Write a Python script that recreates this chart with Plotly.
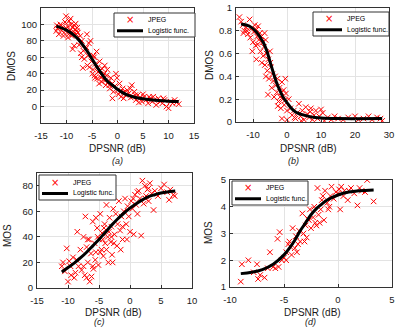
import plotly.graph_objects as go

# ---------------- data ----------------
# (a) DMOS vs DPSNR
a_x = [-12,-11.8,-11.5,-11.2,-11,-10.8,-10.5,-10.3,-10.1,-10,-9.8,-9.6,-9.5,-9.3,-9.1,-9,-8.8,-8.6,-8.5,-8.3,-8.1,-8,-7.9,-8.8,-8.5,-9.7,-10.6,-11.4,-11.9,-9.2,-8.2,-7.8,
       -7.5,-7.2,-7,-6.8,-6.5,-6.3,-6,-5.8,-5.6,-5.5,-5.3,-5.1,-7.3,-6.1,-5.9,-7,-6.7,
       -4.8,-4.6,-4.5,-4.3,-4.1,-4,-3.8,-3.6,-3.5,-3.3,-3.1,-3,-2.8,-2.6,-2.5,-2.3,-2.1,-2,-4.9,-4.4,-3.9,-3.4,-2.9,-2.4,-4.7,
       -1.8,-1.5,-1.3,-1,-0.8,-0.5,-0.3,0,0.2,0.4,0.7,1,1.3,1.6,1.9,-1,-0.1,0.5,1.2,-1.6,
       2.2,2.5,2.8,3,3.3,3.6,4,4.4,4.8,5.2,5.6,6,6.4,6.8,7.2,7.6,8,8.4,8.8,9.2,9.6,10,10.4,10.8,11.2,11.6,12,3.5,5,7,9,2.6,4.2,6.2]
a_y = [92,95,88,100,93,97,90,103,110,95,98,88,104,93,100,86,96,91,99,94,88,92,96,70,74,84,86,97,99,107,101,90,
       75,65,80,47,58,70,88,62,77,48,80,55,86,72,50,60,68,
       45,60,38,52,67,34,42,28,55,36,30,46,33,40,50,26,38,45,40,35,48,44,37,32,62,
       30,22,35,28,18,25,40,20,15,28,12,22,18,14,20,10,35,18,10,26,
       16,22,26,12,18,8,14,10,6,12,8,4,10,6,8,2,10,6,4,8,0,-2,6,4,8,5,3,14,15,12,10,11,5,12]
a_fit_x = [-12,-10,-8,-6,-5,-4,-3,-2,-1,0,1,2,3,4,6,8,10,12]
a_fit_y = [98,93,84,68,58,48,39,31,26,21,17,14,12,10.5,8.5,7.3,6.6,6.2]

# (b) DMOS vs DPSNR
b_x = [-14,-13.5,-13,-12.5,-12,-11.5,-11,-10.8,-10.5,-10,-9.8,-9.5,-9.2,-9,-8.8,-8.5,-8.3,-8,-7.8,-7.5,-9,-10.2,-11.8,-12.8,-8.6,
       -7.2,-7,-6.8,-6.5,-6.3,-6,-5.8,-5.5,-5.3,-5,-4.8,-4.5,-4.3,-4,-3.8,-3.5,-3.3,-6.2,-5.6,-4.9,-7.4,-6.6,
       -3,-2.8,-2.5,-2.2,-2,-1.8,-1.5,-1.2,-1,-0.8,-0.5,-0.3,0,-2.7,-1.6,-0.6,
       0.5,1,1.5,2,2.5,3,3.5,4,4.5,5,5.5,6,6.5,7,7.5,8,8.5,9,9.5,-1.5,0,2.2,4.2,6.8,
       10,10.5,11,12,13,14,15,16.5,18,20,21,22.5,24,25,26.5,27.5,28]
b_y = [0.92,0.88,0.85,0.8,0.83,0.77,0.9,0.74,0.82,0.7,0.79,0.85,0.67,0.81,0.75,0.84,0.72,0.78,0.62,0.75,0.55,0.62,0.8,0.78,0.68,
       0.7,0.58,0.66,0.5,0.72,0.6,0.45,0.55,0.38,0.62,0.48,0.3,0.42,0.36,0.22,0.4,0.32,0.4,0.24,0.52,0.52,0.78,
       0.26,0.38,0.18,0.3,0.22,0.12,0.35,0.2,0.28,0.15,0.38,0.25,0.1,0.14,0.26,0.19,
       0.2,0.12,0.06,0.1,0.03,0.08,0.16,0.05,0.1,0.02,0.13,0.07,0.04,0.12,0.02,0.06,0.1,0.03,0.05,0.03,0.02,0.04,0.01,0.09,
       0.11,0.08,0.01,0.04,0.02,0.05,0.03,0.02,0.04,0.05,0.02,0.03,0.05,0.02,0.04,0.03,0.01]
b_fit_x = [-13.5,-11,-9,-7,-6,-5,-4,-3,-2,-1,0,1,2,3,5,7,10,15,28]
b_fit_y = [0.86,0.84,0.79,0.7,0.63,0.53,0.43,0.34,0.27,0.21,0.17,0.13,0.1,0.08,0.06,0.045,0.035,0.03,0.03]

# (c) MOS vs DPSNR
c_x = [-11,-10.8,-10.5,-10.2,-10,-9.8,-9.5,-9.2,-9,-8.8,-8.5,-8.3,-8,-7.8,-7.5,-7.3,-7.2,-7,-6.8,-6.6,-6.5,-6.3,-6,-5.9,-5.7,-5.5,-5.3,-5.1,-5,-4.8,-4.6,-4.5,-4.3,-4.1,-4,-3.8,-3.6,-3.5,-3.3,-3.1,-3,-2.9,-2.7,-2.5,-2.3,-2.1,-2,-1.8,-1.6,-1.4,-1.2,-1,-0.8,-0.6,-0.4,-0.2,0,0.2,0.4,0.6,0.8,1,1.2,1.4,1.6,1.8,2,2.2,2.4,2.6,2.8,3,3.2,3.5,3.8,4,4.5,5,5.5,6,6.3,6.5,7,7.2,
       -7.5,-7,-6.2,-6,-5.6,-4.8,-4.4,-3.8,-3,-2.6,-8.6,-9.6,-5.2,-4.2,-3.4,-1.5,-2.8,-6.8,0.5,1.2,2.5,3,-1.2,-0.5,-5.5]
c_y = [17,20,13,31,5,21,10,24,8,12,44,17,30,14,40,10,56,8,20,38,5,27,52,15,35,28,47,18,38,58,30,43,25,50,35,65,40,20,55,36,48,26,62,42,58,33,50,68,45,56,38,60,70,50,64,56,44,68,62,42,73,65,58,76,70,41,84,66,80,72,77,68,82,74,61,76,72,78,81,75,69,77,73,72,
       17,32,9,17,22,28,38,30,40,35,22,17,40,47,44,30,20,38,70,75,70,78,48,38,55]
c_fit_x = [-11,-10,-9,-8,-7,-6,-5,-4,-3,-2,-1,0,1,2,3,4,5,6,7.3]
c_fit_y = [12.5,16,19.5,23.5,28,33,38,43.5,49,54,58.5,62.5,66,69,71.5,73,74.3,75.2,76]

# (d) MOS vs DPSNR
d_x = [-9,-8.9,-8.3,-7.8,-7.5,-7.4,-7.2,-6.8,-6.5,-6.3,-6,-5.8,-5.6,-5.4,-5.2,-5,-4.8,-4.6,-4.5,-4.3,-4.2,-4,-3.9,-3.8,-3.6,-3.5,-3.3,-3.1,-3,-2.9,-2.7,-2.6,-2.5,-2.3,-2.2,-2,-1.9,-1.8,-1.6,-1.5,-1.3,-1.2,-1,-0.9,-0.7,-0.6,-0.4,-0.2,0,0.2,0.3,0.6,0.9,1.2,1.5,1.8,2,2.5,2.7,3.3,
       -4.8,-3.7,-2.8,-2.1,-1.4,-0.8,0.5,-5.5,-4.4,-3.2,-1.7,0.1,1,2.2]
d_y = [1.2,1.85,2,1.55,1.85,1.3,1.45,1.35,1.7,2.3,1.75,1.7,2.8,3.05,2,2.1,2.3,2.6,2.7,2.2,3.2,2.45,2.9,2.3,3.1,2.7,3.75,2.7,3.3,2.85,3.5,3.9,3.2,3.6,4.0,3.3,4.7,3.7,3.9,4.25,3.5,4.6,4.15,3.9,4.4,4.75,4.3,4.55,4.5,3.9,4.75,4.6,4.25,4.7,4.5,4.05,4.7,4.55,5.0,4.2,
       2.0,2.6,3.55,3.4,4.4,4.0,4.4,1.75,2.5,3.0,3.4,4.65,4.6,4.6]
d_fit_x = [-9,-8,-7,-6,-5,-4.5,-4,-3.5,-3,-2.5,-2,-1.5,-1,0,1,2,3.3]
d_fit_y = [1.5,1.55,1.65,1.85,2.2,2.45,2.75,3.1,3.4,3.7,3.93,4.1,4.25,4.44,4.55,4.6,4.63]

series_name = "JPEG"
fit_name = "Logistic func."
x_title = "DPSNR (dB)"
y_titles = ["DMOS", "DMOS", "MOS", "MOS"]
captions = ["(a)", "(b)", "(c)", "(d)"]

# ---------------- figure ----------------
W, H = 400, 336
FONT = "Liberation Sans, Arial, sans-serif"
TXT = "#1a1a1a"

def px(xp):
    return xp / W

def py(yp):
    return 1 - yp / H

def labels(vals):
    return [str(v) for v in vals]

panels = [
    dict(sx=a_x, sy=a_y, fx=a_fit_x, fy=a_fit_y, xd=(41, 194), yd=(8, 123),
         xr=[-15, 15], yr=[-20, 120], xt=[-15, -10, -5, 0, 5, 10, 15], yt=[0, 20, 40, 60, 80, 100],
         leg=(114, 13, 195, 37), xtt=(117, 148), ytt=(12, 66), cap=(117, 161)),
    dict(sx=b_x, sy=b_y, fx=b_fit_x, fy=b_fit_y, xd=(236, 389), yd=(8, 122),
         xr=[-15, 30], yr=[0, 1], xt=[-10, 0, 10, 20, 30], yt=[0, 0.2, 0.4, 0.6, 0.8, 1],
         leg=(313, 12, 389, 36), xtt=(308, 148), ytt=(209, 65), cap=(293, 161)),
    dict(sx=c_x, sy=c_y, fx=c_fit_x, fy=c_fit_y, xd=(37, 192), yd=(173, 288),
         xr=[-15, 10], yr=[0, 90], xt=[-15, -10, -5, 0, 5, 10], yt=[0, 20, 40, 60, 80],
         leg=(39, 175, 116, 200), xtt=(114, 312), ytt=(8, 236), cap=(99, 322)),
    dict(sx=d_x, sy=d_y, fx=d_fit_x, fy=d_fit_y, xd=(230, 392), yd=(180, 287),
         xr=[-10, 5], yr=[1, 5], xt=[-10, -5, 0, 5], yt=[1, 2, 3, 4, 5],
         leg=(232, 181, 308, 205), xtt=(312, 312), ytt=(208, 233), cap=(310, 322)),
]

fig = go.Figure()
annotations = []
shapes = []
layout = dict(
    template="none",
    width=W, height=H, margin=dict(l=0, r=0, t=0, b=0, autoexpand=False),
    paper_bgcolor="white", plot_bgcolor="white",
    font=dict(family=FONT, size=9, color=TXT),
    showlegend=False,
)

for i, p in enumerate(panels):
    n = "" if i == 0 else str(i + 1)
    xa, ya = "x" + n, "y" + n
    fig.add_trace(go.Scatter(
        x=p["sx"], y=p["sy"], mode="markers", name=series_name,
        xaxis=xa, yaxis=ya,
        marker=dict(symbol="x-thin", size=5.5, color="#ff0000",
                    line=dict(width=1, color="#ff0000")),
    ))
    fig.add_trace(go.Scatter(
        x=p["fx"], y=p["fy"], mode="lines", name=fit_name,
        xaxis=xa, yaxis=ya,
        line=dict(color="black", width=3, shape="spline"),
    ))
    axis_common = dict(showline=True, mirror=True, linecolor="#333333", linewidth=1,
                       showgrid=True, gridcolor="#e3e3e3", gridwidth=1, zeroline=False,
                       ticks="inside", ticklen=3, tickcolor="#333333", automargin=False,
                       tickfont=dict(family=FONT, size=9.5, color=TXT))
    layout["xaxis" + n] = dict(axis_common, domain=[px(p["xd"][0]), px(p["xd"][1])],
                               range=p["xr"], tickvals=p["xt"], ticktext=labels(p["xt"]),
                               ticklabelstandoff=4, anchor=ya)
    layout["yaxis" + n] = dict(axis_common, domain=[py(p["yd"][1]), py(p["yd"][0])],
                               range=p["yr"], tickvals=p["yt"], ticktext=labels(p["yt"]),
                               ticklabelstandoff=1, anchor=xa)

    # legend box (drawn by hand to match the compact MATLAB legend)
    lx0, ly0, lx1, ly1 = p["leg"]
    shapes.append(dict(type="rect", xref="paper", yref="paper",
                       x0=px(lx0), x1=px(lx1), y0=py(ly1), y1=py(ly0),
                       line=dict(color="#333333", width=1), fillcolor="white", layer="above"))
    row1 = ly0 + (ly1 - ly0) * 0.28
    row2 = ly0 + (ly1 - ly0) * 0.74
    sx0, sx1 = lx0 + 3, lx0 + 29
    shapes.append(dict(type="line", xref="paper", yref="paper",
                       x0=px(sx0), x1=px(sx1), y0=py(row2), y1=py(row2),
                       line=dict(color="black", width=3), layer="above"))
    annotations.append(dict(text="×", x=px((sx0 + sx1) / 2), y=py(row1), xref="paper", yref="paper",
                            showarrow=False, xanchor="center", yanchor="middle",
                            font=dict(family="DejaVu Sans", size=10, color="#ff0000")))
    for label, ry in ((series_name, row1), (fit_name, row2)):
        annotations.append(dict(text=label, x=px(sx1 + 3), y=py(ry), xref="paper", yref="paper",
                                showarrow=False, xanchor="left", yanchor="middle",
                                font=dict(family=FONT, size=7, color="black")))

    annotations.append(dict(text=x_title, x=px(p["xtt"][0]), y=py(p["xtt"][1]),
                            xref="paper", yref="paper", showarrow=False,
                            xanchor="center", yanchor="middle",
                            font=dict(family=FONT, size=10, color=TXT)))
    annotations.append(dict(text=y_titles[i], x=px(p["ytt"][0]), y=py(p["ytt"][1]),
                            xref="paper", yref="paper", showarrow=False, textangle=-90,
                            xanchor="center", yanchor="middle",
                            font=dict(family=FONT, size=10, color=TXT)))
    annotations.append(dict(text="<i>" + captions[i] + "</i>", x=px(p["cap"][0]), y=py(p["cap"][1]),
                            xref="paper", yref="paper", showarrow=False,
                            xanchor="center", yanchor="middle",
                            font=dict(family=FONT, size=9, color=TXT)))

layout["annotations"] = annotations
layout["shapes"] = shapes
fig.update_layout(**layout)
fig.write_html(
    "out.html",
    config={"displayModeBar": False, "staticPlot": True},
    post_script="document.body.style.margin='0';document.body.style.overflow='hidden';",
)
